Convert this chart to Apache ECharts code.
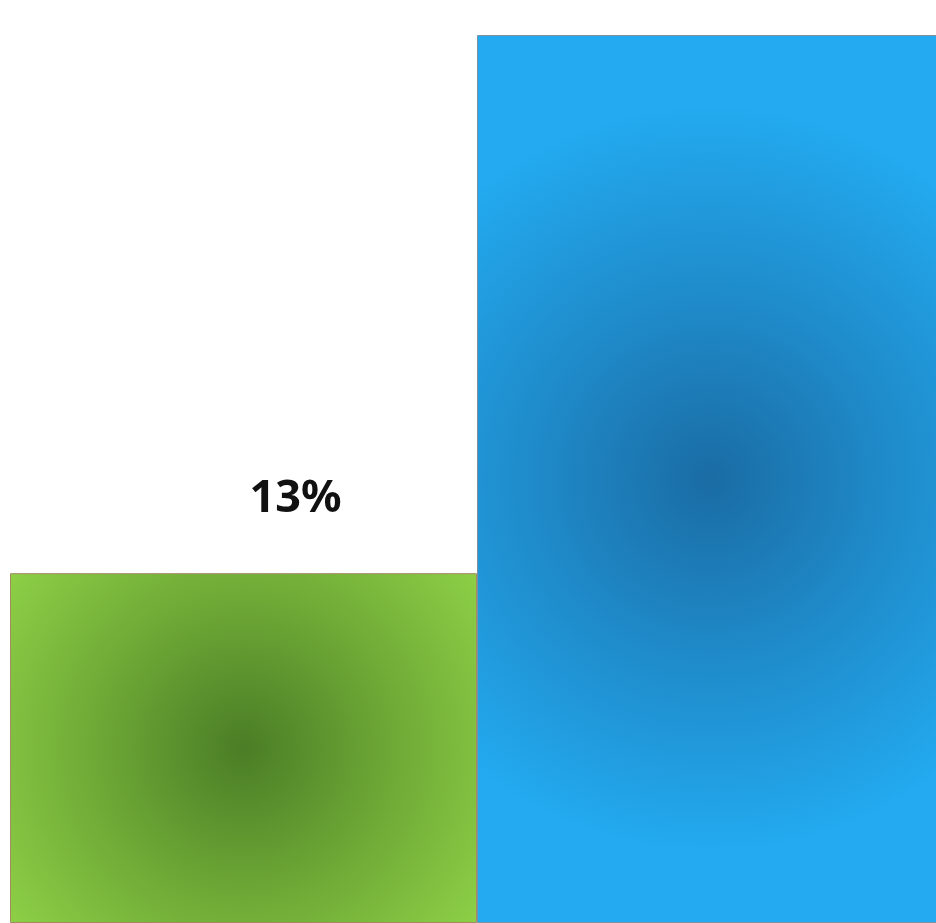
<!DOCTYPE html>
<html>
<head>
<meta charset="utf-8">
<script src="https://cdn.jsdelivr.net/npm/echarts@6/dist/echarts.min.js"></script>
<style>
  html, body { margin: 0; padding: 0; background: #fff; overflow: hidden; }
  #chart { width: 944px; height: 923px; }
</style>
</head>
<body>
<div id="chart"></div>
<script>
// 数据
var categories = ['A', 'B'];
var values = [13, 33];
var labels = ['13%', ''];

// 每个柱子的径向渐变：中心深色，边缘浅色
var centerColors = ['#4b7d26', '#1a6ca4'];
var midColors = ['#6ea936', '#1f8ccb'];
var edgeColors = ['#8fd147', '#23aaf0'];
var borderColors = ['#a38a62', '#80909c'];
var radius = [0.85, 0.8];

function radial(inner, mid, outer, r) {
    return {
        type: 'radial', x: 0.5, y: 0.5, r: r,
        colorStops: [
            { offset: 0, color: inner },
            { offset: 0.5, color: mid },
            { offset: 1, color: outer }
        ]
    };
}

var chart = echarts.init(document.getElementById('chart'));
var option = {
    animation: false,
    grid: { left: 10, right: 0, top: 35, bottom: 0, containLabel: false },
    xAxis: {
        type: 'category',
        data: categories,
        show: false
    },
    yAxis: {
        type: 'value',
        min: 0,
        max: 'dataMax',
        show: false
    },
    series: [{
        type: 'bar',
        barWidth: '100%',
        data: values.map(function (v, i) {
            return {
                value: v,
                itemStyle: {
                    color: radial(centerColors[i], midColors[i], edgeColors[i], radius[i]),
                    borderColor: borderColors[i],
                    borderWidth: 1
                }
            };
        }),
        label: {
            show: true,
            position: 'top',
            offset: [52, -46],
            fontFamily: 'Noto Sans',
            fontWeight: 'bold',
            fontSize: 45,
            color: '#111',
            formatter: function (p) { return labels[p.dataIndex]; }
        }
    }]
};
chart.setOption(option);
</script>
</body>
</html>
